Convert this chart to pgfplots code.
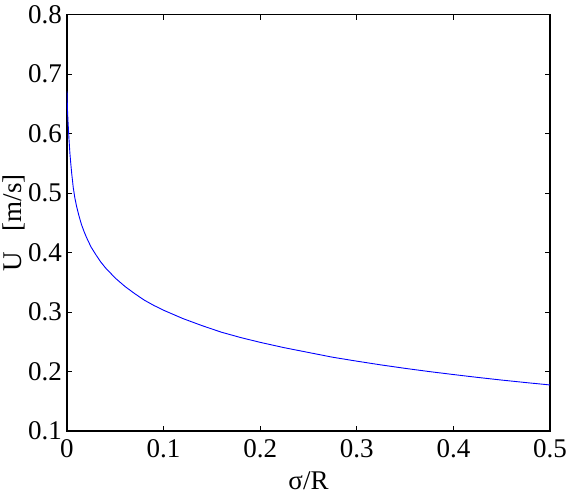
\documentclass[border=0pt]{standalone}
\usepackage{fontspec}
\setmainfont{Liberation Serif}
\usepackage{pgfplots}
\pgfplotsset{compat=1.18}
\newcommand{\chartfont}{\fontsize{27}{30}\selectfont}
\begin{document}
\begin{tikzpicture}[font=\chartfont]
\begin{axis}[
  at={(67pt,63pt)}, anchor=south west,
  scale only axis, width=483pt, height=416.4pt,
  xmin=0, xmax=0.5, ymin=0.1, ymax=0.8,
  xtick={0,0.1,0.2,0.3,0.4,0.5},
  ytick={0.1,0.2,0.3,0.4,0.5,0.6,0.7,0.8},
  /pgf/number format/assume math mode=true,
  /pgf/number format/fixed,
  tick pos=both, tick align=inside,
  major tick length=5pt,
  tick style={black, line width=0.8pt},
  axis line style={black, line width=1.3pt},
  yticklabel style={anchor=east, inner sep=0pt, xshift=-5pt},
  xticklabel style={anchor=base, inner sep=0pt, yshift=-27pt},
  xlabel={σ/R},
  ylabel={U\ \ \ [m/s]},
  xlabel style={at={(axis description cs:0.5,-0.14)}, anchor=base, inner sep=0pt},
  ylabel style={at={(axis description cs:-0.1325,0.5)}, anchor=north, rotate=0, inner sep=0pt},
  every axis label/.append style={font=\chartfont},
  ticklabel style={font=\chartfont},
]
\addplot[blue, line width=0.9pt] coordinates {
(0,0.671) (0.0005,0.640) (0.001,0.622) (0.002,0.592) (0.003,0.567)
(0.004,0.548) (0.005,0.531) (0.0065,0.509) (0.008,0.493) (0.01,0.477)
(0.0125,0.461) (0.015,0.447) (0.0175,0.436) (0.02,0.426) (0.025,0.409)
(0.03,0.396) (0.035,0.384) (0.04,0.374) (0.05,0.357) (0.06,0.343)
(0.07,0.331) (0.08,0.320) (0.09,0.311) (0.1,0.303) (0.12,0.289)
(0.14,0.277) (0.16,0.266) (0.18,0.257) (0.2,0.249) (0.225,0.240)
(0.25,0.232) (0.275,0.224) (0.3,0.2174) (0.325,0.2111) (0.35,0.2053)
(0.375,0.1999) (0.4,0.1949) (0.425,0.1901) (0.45,0.1856) (0.475,0.1814)
(0.5,0.1774)
};
\end{axis}
\pgfresetboundingbox
\path[use as bounding box] (0,0) rectangle (566pt,494pt);
\end{tikzpicture}
\end{document}
